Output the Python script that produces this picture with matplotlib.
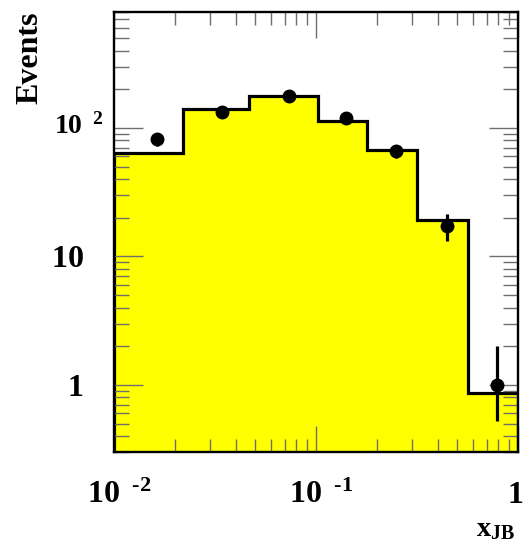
import matplotlib
matplotlib.use("Agg")
import matplotlib.pyplot as plt
import matplotlib.ticker as mtick
from matplotlib.transforms import ScaledTranslation

plt.rcParams["font.family"] = ["Liberation Serif", "DejaVu Serif"]
plt.rcParams["font.weight"] = "bold"
plt.rcParams["mathtext.fontset"] = "custom"
plt.rcParams["mathtext.rm"] = "Liberation Serif:bold"
plt.rcParams["mathtext.bf"] = "Liberation Serif:bold"
plt.rcParams["mathtext.it"] = "Liberation Serif:bold"

yellow = "#ffff00"
tick_grey = "#6e6e6e"

# MC histogram (bin edges in x_JB, expected events per bin)
bin_edges = [0.01, 0.0220, 0.0466, 0.1026, 0.178, 0.318, 0.568, 1.0]
mc_counts = [64.2, 140, 177, 114, 67.8, 19.2, 0.87]

# data points with (asymmetric) errors
data_x = [0.0163, 0.0344, 0.0734, 0.140, 0.248, 0.444, 0.785]
data_y = [81.7, 132, 178, 119.6, 66.2, 17.4, 1.0]
err_lo = [9.0, 11.5, 13.3, 10.9, 8.1, 4.3, 0.48]
err_hi = [9.0, 11.5, 13.3, 10.9, 8.1, 4.0, 1.02]

x_ticks = [0.01, 0.1, 1.0]
x_tick_labels = ["$\\mathbf{10}^{\\ \\ \\mathbf{\u20102}}$",
                 "$\\mathbf{10}^{\\ \\ \\mathbf{\u20101}}$",
                 r"$\mathbf{1}$"]
y_ticks = [1, 10, 100]
y_tick_labels = [r"$\mathbf{1}$", r"$\mathbf{10}$", r"$\mathbf{10}^{\ \ \mathbf{2}}$"]

fig = plt.figure(figsize=(5.24, 5.41), dpi=100)
ax = fig.add_axes([114 / 524, 89 / 541, 404 / 524, 440 / 541])
ax.set_xscale("log")
ax.set_yscale("log")

ax.stairs(mc_counts, bin_edges, baseline=0.1, fill=True, color=yellow, zorder=1)
ax.stairs(mc_counts, bin_edges, baseline=0.1, color="black", lw=2.3, zorder=1.2)
ax.errorbar(data_x, data_y, yerr=[err_lo, err_hi], fmt="o", color="black",
            ms=9, elinewidth=2.3, capsize=0, zorder=3)

ax.set_xlim(0.01, 1.0)
ax.set_ylim(0.3, 800)

ax.xaxis.set_major_locator(mtick.FixedLocator(x_ticks))
ax.xaxis.set_major_formatter(mtick.FixedFormatter(x_tick_labels))
ax.yaxis.set_major_locator(mtick.FixedLocator(y_ticks))
ax.yaxis.set_major_formatter(mtick.FixedFormatter(y_tick_labels))
ax.xaxis.set_minor_locator(mtick.LogLocator(subs=range(2, 10)))
ax.yaxis.set_minor_locator(mtick.LogLocator(subs=range(2, 10)))
ax.xaxis.set_minor_formatter(mtick.NullFormatter())
ax.yaxis.set_minor_formatter(mtick.NullFormatter())

ax.tick_params(which="both", direction="in", top=True, right=True,
               color=tick_grey, width=1.0, labelsize=23)
ax.tick_params(axis="x", which="major", length=19, pad=37)
ax.tick_params(axis="x", which="minor", length=9.5)
ax.tick_params(axis="y", which="major", length=21, pad=22)
ax.tick_params(axis="y", which="minor", length=11)

for s in ax.spines.values():
    s.set_linewidth(1.7)
    s.set_color("black")

ax.set_ylabel("Events", fontsize=23, fontweight="bold", loc="top")
ax.yaxis.set_label_coords(-0.171, 1.0)
ax.set_xlabel(r"$\mathbf{x}_{\mathbf{JB}}$", fontsize=20.5, loc="right")
ax.xaxis.set_label_coords(0.993, -0.148)

# ROOT-like label placement: baseline-aligned x labels, exponents sticking out
for lbl in ax.get_xticklabels():
    lbl.set_verticalalignment("baseline")
xl = ax.get_xticklabels()
for lbl in xl[:2]:
    lbl.set_transform(lbl.get_transform() + ScaledTranslation(5 / 100, 0, fig.dpi_scale_trans))
xl[2].set_transform(xl[2].get_transform() + ScaledTranslation(-3 / 100, 0, fig.dpi_scale_trans))
yl = ax.get_yticklabels()
yl[2].set_fontsize(20)
yl[2].set_transform(yl[2].get_transform() + ScaledTranslation(20 / 100, 5 / 100, fig.dpi_scale_trans))

fig.savefig("out.png", dpi=100)
